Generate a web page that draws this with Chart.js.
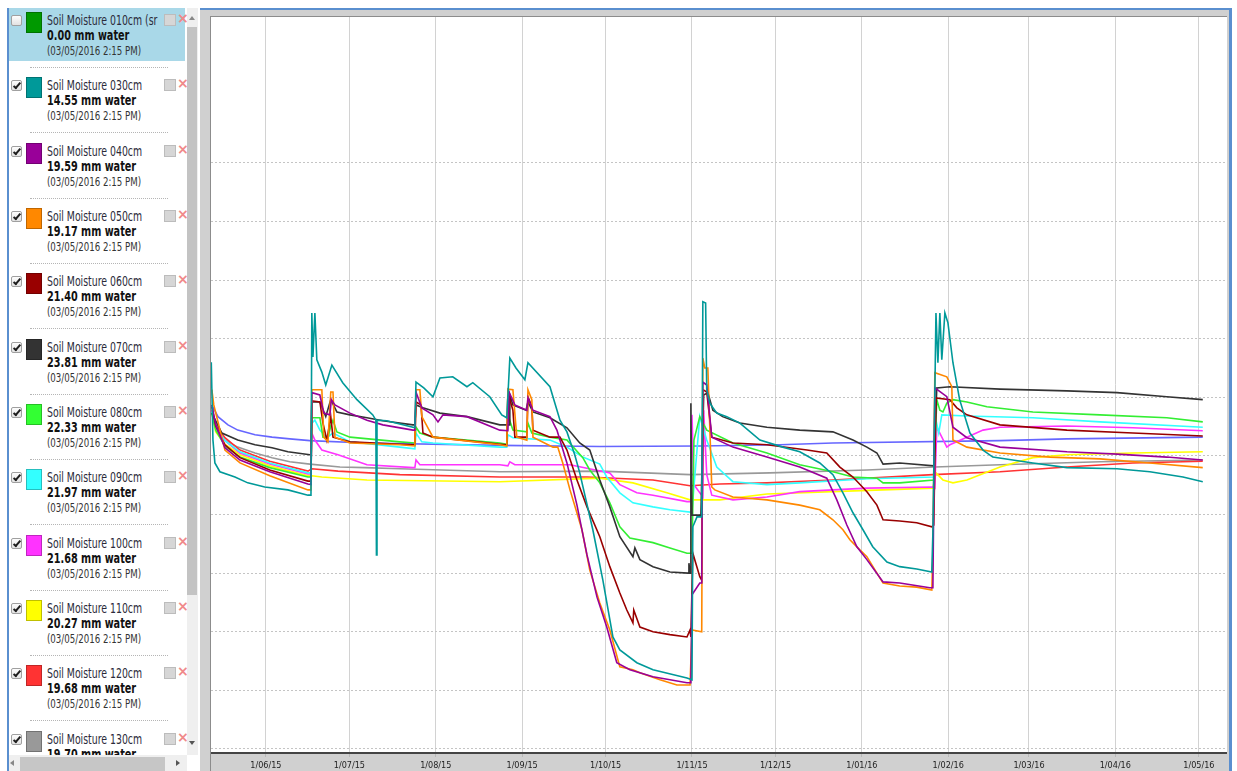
<!DOCTYPE html>
<html>
<head>
<meta charset="utf-8">
<title>Soil Moisture</title>
<script src="https://cdn.jsdelivr.net/npm/chart.js@4.4.0/dist/chart.umd.min.js"></script>
<style>
    html, body { margin: 0; padding: 0; background: #fff; }
    body { width: 1237px; height: 771px; overflow: hidden; position: relative;
           font-family: 'DejaVu Sans Condensed', 'DejaVu Sans', sans-serif; }

    /* panel de sensores */
    #panel { position: absolute; left: 7px; top: 8px; width: 178px; height: 763px; border-left: 2px solid #5a8fcf; }
    #list { position: absolute; left: 0; top: 0; width: 178px; height: 747px; overflow: hidden; }
    .item { position: absolute; left: 0; width: 178px; height: 65px; }
    .item.sel::before { content: ''; position: absolute; left: 0; top: 0; width: 176px; height: 53px; background: #a9d8e8; }
    .cb { position: absolute; left: 2px; top: 7px; width: 9px; height: 9px; border: 1px solid #a0a0a0;
          background: linear-gradient(#fdfdfd, #e2e2e2); border-radius: 2px; }
    .cb.on::after { content: ''; position: absolute; left: 3px; top: 0; width: 2px; height: 6px;
                    border: solid #1e1e1e; border-width: 0 2px 2px 0; transform: rotate(40deg); }
    .sw { position: absolute; left: 17px; top: 4px; width: 14px; height: 19px; border: 1px solid rgba(0,0,0,0.25); }
    .name, .val, .when { position: absolute; left: 38px; white-space: nowrap; transform-origin: 0 0; }
    .name { top: 6px; width: 151px; overflow: hidden; font-size: 13.5px; line-height: 13px; color: #2b2b3a; transform: scaleX(0.77); }
    .val { top: 20px; font-size: 14px; font-weight: bold; line-height: 14px; color: #111; transform: scaleX(0.77); }
    .when { top: 37px; font-size: 12px; line-height: 12px; color: #333; transform: scaleX(0.8); }
    .btn { position: absolute; left: 155px; top: 6px; width: 10px; height: 10px; background: #d6d6d6; border: 1px solid #bcbcbc; }
    .del { position: absolute; left: 168px; top: 3px; font: bold 14px 'DejaVu Sans', sans-serif; line-height: 14px; color: #f08a8a; }
    .sep { position: absolute; left: 21px; top: 59px; width: 138px; border-top: 1px dotted #b5b5b5; }

    #hs { position: absolute; left: 0; top: 747px; width: 178px; height: 16px; background: #efefef; }
    #hs .thumb { position: absolute; left: 11px; top: 2px; width: 145px; height: 14px; background: #c6c6c6; }
    #hs .lt { position: absolute; left: 1px; top: 5px; border-top: 3px solid transparent; border-bottom: 3px solid transparent; border-right: 4px solid #888; }
    #hs .rt { position: absolute; left: 167px; top: 5px; border-top: 3px solid transparent; border-bottom: 3px solid transparent; border-left: 4px solid #555; }

    #vs { position: absolute; left: 187px; top: 8px; width: 11px; height: 747px; background: #efefef; }
    #vs .thumb { position: absolute; left: 0; top: 19px; width: 10px; height: 568px; background: #c3c3c3; }
    #vs .up { position: absolute; left: 2px; top: 8px; border-left: 3px solid transparent; border-right: 3px solid transparent; border-bottom: 4px solid #888; }
    #vs .dn { position: absolute; left: 2px; top: 733px; border-left: 3px solid transparent; border-right: 3px solid transparent; border-top: 4px solid #555; }

    /* marco de la grafica */
    #frame { position: absolute; left: 200px; top: 8px; width: 1029px; height: 761px; background: #d0d0d0;
             border-top: 2px solid #5a8fcf; border-right: 3px solid #5a8fcf; }
    #plotwrap { position: absolute; left: 210px; top: 16px; border-top: 1px solid #8c8c8c; border-left: 1px solid #8c8c8c; }
    #plotwrap canvas { display: block; }
</style>
</head>
<body>
<div id="panel">
    <div id="list"></div>
    <div id="hs"><span class="lt"></span><span class="thumb"></span><span class="rt"></span></div>
</div>
<div id="vs"><span class="up"></span><span class="thumb"></span><span class="dn"></span></div>
<div id="frame"></div>
<div id="plotwrap"><canvas id="moistureChart" width="1016" height="754"></canvas></div>

<script>
// Sensores (panel izquierdo)
const sensorNames = ['Soil Moisture 010cm (sr', 'Soil Moisture 030cm', 'Soil Moisture 040cm', 'Soil Moisture 050cm',
    'Soil Moisture 060cm', 'Soil Moisture 070cm', 'Soil Moisture 080cm', 'Soil Moisture 090cm',
    'Soil Moisture 100cm', 'Soil Moisture 110cm', 'Soil Moisture 120cm', 'Soil Moisture 130cm'];
const latestValues = ['0.00', '14.55', '19.59', '19.17', '21.40', '23.81', '22.33', '21.97', '21.68', '20.27', '19.68', '19.70'];
const sensorColors = ['#009900', '#009999', '#990099', '#ff8800', '#990000', '#333333', '#33ff33', '#33ffff',
    '#ff33ff', '#ffff00', '#ff3333', '#999999'];
const sensorShown = [false, true, true, true, true, true, true, true, true, true, true, true];
const readingTime = '03/05/2016 2:15 PM';

// Eje X: dias desde 1/06/15
const monthDays = [0, 30, 61, 92, 122, 153, 183, 214, 245, 274, 305, 335];
const monthLabels = ['1/06/15', '1/07/15', '1/08/15', '1/09/15', '1/10/15', '1/11/15',
    '1/12/15', '1/01/16', '1/02/16', '1/03/16', '1/04/16', '1/05/16'];
const gridLevels = [0, 10, 20, 30, 40, 50, 60, 70, 80, 90, 100];

// Series [dia, valor]
const sm030 = [[-19.6,66.0],[-19.0,52.7],[-18.3,48.8],[-16.5,47.3],[-11.1,46.4],[-6.5,45.4],[-0.4,44.7],[7.9,44.2],[15.1,43.3],[16.2,43.3],
    [16.5,74.4],[16.9,66.9],[17.6,74.4],[18.3,66.4],[20.1,64.3],[21.5,62.1],[23.7,65.5],[27.6,62.5],[32.7,59.6],[38.4,57.0],[39.5,56.1],
    [39.7,33.1],[39.9,56.1],[43.4,56.0],[52.8,54.9],[53.5,54.8],[53.9,62.6],[56.7,61.6],[60.0,60.1],[62.5,63.3],[67.1,63.5],[72.2,61.8],
    [74.3,62.5],[80.4,60.1],[84.7,57.0],[86.5,56.5],[87.6,66.7],[89.8,65.0],[93.0,63.0],[94.1,65.9],[102.0,61.8],[105.6,56.1],[108.1,54.1],
    [110.9,50.2],[112.7,47.1],[117.4,37.4],[121.0,28.8],[124.6,19.1],[127.1,16.9],[133.2,14.7],[139.0,13.5],[151.2,12.1],[153.0,11.8],
    [153.3,37.9],[154.8,39.6],[156.5,39.6],[156.9,76.3],[157.9,76.1],[158.3,61.3],[159.4,59.0],[161.9,57.3],[165.5,56.7],[170.2,55.6],
    [177.4,52.7],[185.6,51.5],[191.7,50.7],[198.9,48.8],[203.6,46.8],[207.2,43.7],[210.8,40.3],[214.4,37.4],[217.9,34.5],[223.0,31.9],
    [227.6,31.1],[233.7,30.7],[239.1,30.2],[239.5,36.9],[240.6,74.4],[241.3,65.9],[242.0,74.4],[242.7,66.4],[243.8,74.4],[244.9,72.7],
    [246.7,65.9],[249.1,59.6],[252.8,53.9],[257.5,51.0],[261.0,49.8],[275.4,48.8],[287.6,48.0],[305.6,47.8],[317.4,47.3],[329.3,46.4],[336.4,45.6]];
const sm040 = [[-19.4,58.7],[-18.0,55.3],[-14.7,51.4],[-9.3,49.3],[1.4,47.3],[15.1,45.2],[16.2,45.1],[16.5,60.8],[19.4,60.4],[20.8,57.3],
    [23.0,57.0],[23.5,59.6],[24.8,58.7],[30.2,57.3],[36.3,56.1],[42.0,55.3],[52.8,54.4],[53.5,54.4],[53.9,60.9],[56.0,58.2],[60.0,57.0],
    [61.8,55.8],[63.6,57.0],[72.2,56.7],[84.0,54.4],[86.9,54.3],[87.3,60.9],[89.4,58.7],[93.7,57.8],[94.1,59.9],[95.9,57.8],[102.0,56.7],
    [104.5,54.4],[108.1,48.8],[111.7,41.6],[115.3,33.1],[118.9,25.9],[122.4,20.8],[126.0,14.7],[130.7,13.5],[139.0,12.3],[151.2,11.3],
    [152.6,11.3],[153.0,26.3],[155.8,28.3],[156.5,28.3],[156.9,62.6],[158.3,62.1],[160.1,53.2],[167.7,51.5],[179.9,49.8],[191.7,48.1],
    [201.4,46.2],[205.0,42.5],[208.6,38.2],[212.2,34.5],[215.8,32.3],[221.6,28.5],[227.6,28.3],[238.4,27.5],[239.5,27.5],[240.2,61.6],
    [244.5,60.1],[246.7,54.9],[251.7,53.1],[263.6,51.5],[287.6,50.7],[305.6,50.3],[323.5,49.8],[336.4,49.3]];
const sm050 = [[-19.4,61.3],[-18.7,58.7],[-14.7,51.0],[-9.3,48.8],[1.4,46.6],[15.1,44.2],[16.2,44.2],[16.5,61.3],[20.1,61.3],[20.8,53.2],
    [22.3,52.4],[23.3,60.9],[24.1,60.9],[24.8,53.2],[30.2,52.2],[48.1,51.9],[53.5,51.7],[53.9,61.3],[55.3,61.3],[56.0,56.7],[60.0,53.2],
    [84.0,51.9],[86.5,51.7],[86.9,61.4],[88.7,61.3],[90.1,53.2],[93.7,52.7],[94.1,61.3],[95.5,59.6],[95.9,53.2],[103.1,51.5],[104.8,51.5],
    [106.6,48.8],[109.2,44.2],[113.5,37.4],[116.3,30.5],[119.9,24.9],[123.5,20.3],[127.1,14.0],[131.8,13.5],[134.3,13.0],[141.5,11.8],
    [147.6,10.9],[152.3,10.9],[153.0,20.3],[156.5,20.0],[156.9,66.7],[157.6,65.0],[158.7,65.0],[160.1,44.7],[161.2,44.2],[167.7,43.0],
    [179.9,42.5],[191.7,41.6],[198.9,40.8],[203.6,39.1],[207.2,37.4],[209.7,35.7],[213.2,34.0],[215.8,32.8],[219.4,30.0],[221.6,28.3],
    [227.6,27.8],[233.7,27.6],[239.1,27.1],[239.5,33.4],[240.2,64.2],[244.5,63.5],[246.3,61.8],[246.7,52.7],[251.7,51.5],[263.6,50.5],
    [281.5,49.8],[299.5,49.5],[317.4,48.8],[336.4,48.0]];
const sm060 = [[-19.4,58.4],[-18.0,55.1],[-14.7,51.9],[-9.3,49.7],[1.4,47.6],[15.1,45.7],[16.2,45.7],[16.5,59.4],[19.4,59.2],[20.5,55.6],
    [21.9,52.7],[23.3,56.7],[24.1,53.2],[30.2,52.4],[48.1,52.0],[53.5,51.9],[53.9,59.2],[55.7,58.7],[56.4,53.9],[60.0,53.2],[84.0,52.0],
    [86.5,51.9],[86.9,60.8],[88.7,57.8],[89.4,53.2],[93.7,53.2],[94.1,60.1],[95.5,58.4],[95.9,54.4],[102.0,53.2],[105.6,53.2],[108.1,51.0],
    [111.7,45.9],[115.3,41.3],[119.9,36.2],[123.5,31.1],[127.1,26.6],[129.6,23.7],[131.8,21.5],[132.1,23.7],[134.3,20.8],[139.0,20.0],
    [145.1,19.5],[151.2,19.1],[152.3,20.3],[152.6,19.1],[153.3,33.4],[155.8,29.4],[156.5,28.8],[156.9,61.3],[158.3,60.9],[160.1,53.2],
    [167.7,52.2],[179.9,51.9],[194.3,51.0],[201.4,50.5],[206.1,48.1],[210.8,46.4],[215.8,43.9],[219.4,41.6],[221.6,39.1],[227.6,38.9],
    [233.7,38.6],[239.1,37.9],[239.8,38.2],[240.6,59.9],[245.6,59.6],[248.1,58.2],[251.7,57.0],[263.6,55.3],[287.6,54.4],[311.3,53.9],[336.4,53.4]];
const sm070 = [[-19.4,57.3],[-15.8,53.9],[-10.1,52.7],[-3.9,51.9],[2.2,51.4],[7.9,50.7],[15.8,50.2],[16.2,50.2],[16.5,59.2],[19.4,59.2],
    [21.5,56.7],[23.3,59.6],[25.5,57.5],[30.2,57.0],[36.3,56.5],[42.0,56.0],[52.8,55.3],[53.5,55.3],[53.9,58.7],[56.4,58.2],[62.5,57.3],
    [72.2,56.7],[84.0,55.3],[87.3,55.3],[87.6,60.4],[88.7,58.7],[93.4,57.8],[94.1,59.2],[95.9,57.5],[102.0,56.5],[108.1,54.8],[112.7,52.2],
    [116.3,51.0],[119.9,45.9],[123.5,41.3],[127.1,36.2],[131.8,32.8],[132.5,34.3],[134.3,32.3],[139.0,31.1],[145.1,30.2],[151.6,30.0],
    [151.9,31.7],[152.3,30.0],[152.6,59.0],[153.0,39.9],[156.2,39.9],[157.2,60.4],[158.7,60.8],[160.5,57.8],[164.0,56.7],[170.2,55.6],
    [179.9,54.9],[191.7,54.4],[203.6,54.1],[210.8,52.7],[215.8,51.5],[219.4,50.5],[221.6,48.6],[227.6,48.8],[239.8,48.3],[240.9,61.6],
    [245.6,61.8],[263.6,61.4],[287.6,61.1],[305.6,60.8],[323.5,60.1],[336.4,59.6]];
const sm080 = [[-19.4,57.3],[-18.0,54.4],[-14.7,51.7],[-9.3,49.8],[1.4,48.0],[15.1,46.4],[16.2,46.4],[16.5,56.5],[19.4,56.5],[20.5,53.2],
    [22.3,53.1],[23.3,55.1],[24.1,56.1],[25.5,54.1],[30.2,53.2],[48.1,52.4],[53.5,52.2],[53.9,54.9],[55.3,53.9],[60.0,53.2],[84.0,52.2],
    [86.5,52.0],[86.9,57.0],[88.7,54.4],[93.7,54.1],[94.1,55.6],[95.5,53.9],[102.0,53.2],[108.1,52.7],[113.8,49.7],[116.3,47.6],[119.9,45.4],
    [123.5,42.0],[127.1,37.9],[130.7,36.0],[139.0,35.2],[145.1,34.3],[151.2,33.4],[153.0,33.4],[153.7,52.7],[155.8,56.7],[158.3,54.4],
    [167.7,52.2],[179.9,50.5],[191.7,48.5],[203.6,47.3],[210.8,46.4],[219.4,46.2],[221.6,45.4],[227.6,45.4],[239.8,45.9],[240.9,59.6],
    [242.0,57.8],[243.1,57.5],[244.5,59.0],[246.7,59.6],[251.7,59.2],[258.9,58.4],[275.4,57.5],[299.5,57.0],[323.5,56.5],[336.4,55.8]];
const sm090 = [[-19.4,57.5],[-18.0,54.8],[-14.7,52.6],[-9.3,50.7],[1.4,48.8],[15.1,47.1],[16.2,47.1],[16.5,55.6],[17.6,56.1],[19.4,54.4],
    [21.9,53.1],[24.1,53.9],[30.2,52.4],[48.1,51.5],[53.5,51.2],[53.9,53.9],[56.0,52.4],[60.0,52.2],[84.0,51.5],[86.5,51.5],[86.9,53.6],
    [88.7,53.1],[102.0,52.7],[108.1,51.5],[113.8,49.8],[119.9,48.6],[122.4,46.4],[127.1,43.7],[131.8,42.0],[139.0,41.3],[145.1,40.8],
    [152.3,40.4],[153.0,40.6],[154.0,46.4],[155.8,56.7],[158.3,52.7],[161.9,48.1],[167.7,45.6],[179.9,45.1],[191.7,45.4],[215.8,46.1],
    [239.8,46.4],[240.6,56.1],[241.6,53.9],[242.7,57.0],[251.7,56.8],[275.4,56.5],[299.5,55.8],[336.4,54.9]];
const sm100 = [[-19.4,57.8],[-18.0,54.8],[-14.7,52.6],[-9.3,50.5],[1.4,48.6],[15.1,46.9],[16.2,46.9],[16.5,53.9],[17.6,52.7],[20.1,51.0],
    [25.9,50.2],[36.3,48.5],[52.8,48.0],[53.5,48.0],[53.9,49.3],[55.3,48.5],[84.0,48.5],[86.9,48.3],[87.6,49.0],[89.4,48.5],[109.2,48.5],
    [123.5,47.1],[127.1,45.1],[133.2,43.7],[139.0,43.3],[151.2,42.2],[152.6,42.2],[153.0,57.0],[153.7,45.1],[156.9,43.0],[157.2,57.8],
    [158.3,46.8],[160.1,43.3],[167.7,42.5],[179.9,43.0],[191.7,43.9],[203.6,44.2],[215.8,44.5],[239.5,44.7],[240.2,44.5],[240.9,54.9],
    [244.5,51.5],[245.6,51.9],[251.7,53.2],[257.5,54.4],[263.6,54.9],[287.6,55.1],[311.3,54.8],[336.4,54.3]];
const sm110 = [[-19.4,57.3],[-18.0,54.1],[-14.7,52.0],[-9.3,50.2],[1.4,48.3],[15.1,46.6],[16.5,46.6],[20.1,46.4],[36.3,45.9],[84.0,45.6],
    [119.9,46.2],[131.8,45.4],[144.0,43.7],[152.3,42.5],[163.0,42.5],[179.9,43.5],[203.6,43.9],[239.5,44.5],[240.6,47.1],[243.1,45.9],
    [246.7,45.4],[251.7,45.9],[263.6,48.1],[275.4,49.7],[287.6,50.2],[311.3,50.5],[336.4,50.7]];
const sm120 = [[-19.4,57.8],[-18.0,55.3],[-14.7,53.1],[-9.3,51.0],[1.4,49.1],[15.1,47.4],[16.5,47.8],[25.9,47.4],[48.1,46.8],[84.0,46.4],
    [115.3,46.4],[139.0,45.9],[152.3,44.9],[163.0,45.2],[179.9,45.4],[203.6,45.9],[239.5,46.8],[263.6,47.3],[287.6,48.1],[311.3,48.8],[336.4,49.1]];
const sm130 = [[-19.4,57.5],[-18.0,54.8],[-14.7,52.7],[-10.1,51.5],[-3.9,50.5],[2.2,49.7],[8.6,49.0],[15.8,48.6],[26.6,48.1],[35.5,48.0],
    [48.1,47.8],[84.0,47.3],[119.9,47.4],[152.3,46.8],[181.0,47.1],[215.8,47.6],[240.2,48.1],[263.6,48.5],[299.5,49.0],[336.4,49.3]];
const sm140 = [[-19.4,58.7],[-17.2,56.7],[-13.6,55.3],[-10.1,54.4],[-3.9,53.6],[2.2,53.2],[8.6,52.9],[15.8,52.6],[35.5,52.2],[84.0,51.8],
    [119.9,51.6],[155.8,51.7],[184.6,51.9],[203.6,52.2],[263.6,52.6],[287.6,52.9],[336.4,53.2]];

document.addEventListener('DOMContentLoaded', function() {
    // Construir lista de sensores
    const list = document.getElementById('list');
    sensorNames.forEach((name, i) => {
        const item = document.createElement('div');
        item.className = 'item' + (i === 0 ? ' sel' : '');
        item.style.top = (i * 65.33) + 'px';
        item.innerHTML =
            `<span class="cb${sensorShown[i] ? ' on' : ''}"></span>` +
            `<span class="sw" style="background:${sensorColors[i]}"></span>` +
            `<div class="name">${name}</div>` +
            `<div class="val">${latestValues[i]} mm water</div>` +
            `<div class="when">(${readingTime})</div>` +
            `<span class="btn"></span><span class="del">×</span>` +
            `<div class="sep"></div>`;
        list.appendChild(item);
    });

    // Series dibujadas
    const series = [
        { label: 'Soil Moisture 030cm', data: sm030, color: '#009999' },
        { label: 'Soil Moisture 040cm', data: sm040, color: '#990099' },
        { label: 'Soil Moisture 050cm', data: sm050, color: '#ff8800' },
        { label: 'Soil Moisture 060cm', data: sm060, color: '#990000' },
        { label: 'Soil Moisture 070cm', data: sm070, color: '#333333' },
        { label: 'Soil Moisture 080cm', data: sm080, color: '#33ee33' },
        { label: 'Soil Moisture 090cm', data: sm090, color: '#33ffff' },
        { label: 'Soil Moisture 100cm', data: sm100, color: '#ff33ff' },
        { label: 'Soil Moisture 110cm', data: sm110, color: '#ffff00' },
        { label: 'Soil Moisture 120cm', data: sm120, color: '#ff3333' },
        { label: 'Soil Moisture 130cm', data: sm130, color: '#999999' },
        { label: 'Soil Moisture 140cm', data: sm140, color: '#6666ff' }
    ];

    // Fondo gris con area de trazado blanca
    const frameFill = {
        id: 'frameFill',
        beforeDraw(chart) {
            const { ctx, chartArea: a, width, height } = chart;
            ctx.save();
            ctx.fillStyle = '#d0d0d0';
            ctx.fillRect(0, 0, width, height);
            ctx.fillStyle = '#ffffff';
            ctx.fillRect(a.left, a.top, a.right - a.left, a.bottom - a.top);
            ctx.restore();
        }
    };

    const ctx = document.getElementById('moistureChart').getContext('2d');
    new Chart(ctx, {
        type: 'line',
        data: {
            datasets: series.map(s => ({
                label: s.label,
                data: s.data.map(p => ({ x: p[0], y: p[1] })),
                borderColor: s.color,
                backgroundColor: s.color,
                borderWidth: 1.6,
                pointRadius: 0,
                tension: 0,
                fill: false
            }))
        },
        options: {
            responsive: false,
            animation: false,
            devicePixelRatio: 1,
            layout: { padding: 0 },
            plugins: {
                legend: { display: false },
                tooltip: { enabled: false }
            },
            scales: {
                x: {
                    type: 'linear',
                    min: -19.7,
                    max: 345.1,
                    afterBuildTicks: scale => { scale.ticks = monthDays.map(v => ({ value: v })); },
                    afterFit: scale => { scale.height = 18; },
                    ticks: {
                        autoSkip: false,
                        maxRotation: 0,
                        padding: 3,
                        color: '#222',
                        font: { family: "'DejaVu Sans Condensed', 'DejaVu Sans', sans-serif", size: 9 },
                        callback: (value, index) => monthLabels[index]
                    },
                    grid: { color: '#d2d2d2', lineWidth: 1, tickLength: 4, tickColor: '#b8b8b8' },
                    border: { display: true, color: '#444', width: 2 }
                },
                y: {
                    type: 'linear',
                    min: -0.7,
                    max: 124.9,
                    afterBuildTicks: scale => { scale.ticks = gridLevels.map(v => ({ value: v })); },
                    afterFit: scale => { scale.width = 0; },
                    ticks: { display: false },
                    grid: { color: '#c4c4c4', lineWidth: 1, drawTicks: false },
                    border: { display: false, dash: [2, 2] }
                }
            }
        },
        plugins: [frameFill]
    });
});
</script>
</body>
</html>
